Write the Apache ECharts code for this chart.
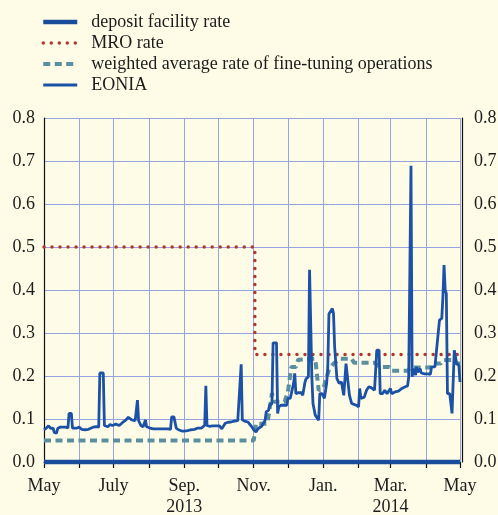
<!DOCTYPE html>
<html><head><meta charset="utf-8">
<script src="https://cdn.jsdelivr.net/npm/echarts@6/dist/echarts.min.js"></script>
<style>html,body{margin:0;padding:0;background:#fefce6;} #c{width:498px;height:515px;}</style>
</head><body><div id="c"></div>
<script>
// Period: 1 May 2013 – 1 May 2014; x values are days since 1 May 2013
const startYear = 2013, startMonth = 4;
const periodDays = 365;
const seriesNames = ['deposit facility rate', 'MRO rate', 'weighted average rate of fine-tuning operations', 'EONIA'];
const xTickLabels = ['May', '', 'July', '', 'Sep.\n2013', '', 'Nov.', '', 'Jan.', '', 'Mar.\n2014', '', 'May'];
const yMin = 0, yMax = 0.8, yStep = 0.1;

const depositDay = [0, 365];
const depositRate = [0, 0];

const mroDay = [0, 185, 185, 365];
const mroRate = [0.5, 0.5, 0.25, 0.25];

const ftoDay = [0, 184, 186, 196, 200, 202, 211, 214, 217, 221, 223, 238, 241, 245, 250, 254, 260, 270, 272, 290, 294, 303, 305, 319, 322, 339, 341, 348, 350, 360, 362, 365];
const ftoRate = [0.05, 0.05, 0.089, 0.089, 0.16, 0.14, 0.14, 0.163, 0.221, 0.221, 0.238, 0.240, 0.167, 0.171, 0.214, 0.229, 0.240, 0.240, 0.231, 0.231, 0.221, 0.221, 0.212, 0.212, 0.220, 0.220, 0.229, 0.229, 0.237, 0.237, 0.229, 0.229];

const eoniaDay = [0, 2, 4, 6, 8, 9, 11, 12, 14, 17, 19, 21, 22, 24, 25, 27, 29, 31, 33, 36, 39, 40, 43, 46, 48, 49, 52, 53, 56, 58, 60, 63, 66, 69, 72, 74, 77, 80, 81, 82, 83, 85, 87, 89, 90,
  93, 96, 100, 104, 109, 111, 112, 114, 116, 118, 121, 123, 126, 129, 132, 135, 138, 141, 142, 143, 145, 148, 151, 154, 156, 159, 161, 164, 167, 170, 171, 173, 174, 176, 179, 182, 184,
  186, 188, 191, 194, 195, 197, 198, 199, 200, 201, 204, 205, 206, 208, 210, 211, 213, 214, 216, 217, 219, 220, 221, 223, 224, 226, 227, 229, 230, 232, 233, 234, 235, 236, 238, 239, 241, 242, 244, 245, 246, 248, 249, 250, 251, 253, 254, 255, 257, 259, 261, 263, 265, 266, 268, 270, 272, 274, 276, 277,
  278, 279, 281, 283, 285, 287, 290, 291, 292, 294, 295, 297, 299, 301, 302, 304, 305, 306, 308, 311, 314, 317, 319, 320, 321, 322, 323, 324, 326, 327, 328, 330, 331, 334, 337, 339, 340, 343, 345, 347, 349, 350, 351, 352, 353, 354, 356, 358, 359, 360, 361, 362, 364, 365];
const eoniaRate = [0.075, 0.079, 0.084, 0.078, 0.079, 0.069, 0.067, 0.078, 0.081, 0.081, 0.081, 0.079, 0.113, 0.113, 0.079, 0.079, 0.079, 0.081, 0.076, 0.075, 0.076, 0.079, 0.081, 0.082, 0.081, 0.207, 0.207, 0.085, 0.082, 0.087, 0.085, 0.088, 0.085, 0.092, 0.098, 0.104, 0.098, 0.096, 0.092, 0.144, 0.096, 0.085, 0.082, 0.098, 0.082,
  0.079, 0.077, 0.077, 0.077, 0.077, 0.076, 0.105, 0.105, 0.079, 0.075, 0.072, 0.072, 0.073, 0.075, 0.076, 0.079, 0.079, 0.085, 0.177, 0.085, 0.083, 0.084, 0.084, 0.084, 0.077, 0.090, 0.092, 0.093, 0.095, 0.096, 0.096, 0.227, 0.098, 0.095, 0.093, 0.083, 0.075,
  0.070, 0.078, 0.083, 0.097, 0.117, 0.120, 0.132, 0.128, 0.136, 0.277, 0.277, 0.113, 0.128, 0.132, 0.132, 0.136, 0.132, 0.148, 0.148, 0.159, 0.183, 0.206, 0.159, 0.161, 0.159, 0.161, 0.155, 0.186, 0.194, 0.198, 0.447, 0.447, 0.198, 0.136, 0.109, 0.113, 0.097, 0.159, 0.159, 0.155, 0.148, 0.183, 0.221, 0.344, 0.346, 0.357, 0.346, 0.268, 0.194, 0.183, 0.186, 0.155, 0.229, 0.228, 0.155, 0.136, 0.134, 0.132, 0.128, 0.171,
  0.148, 0.144, 0.151, 0.167, 0.175, 0.173, 0.167, 0.163, 0.260, 0.260, 0.159, 0.159, 0.167, 0.159, 0.163, 0.171, 0.159, 0.159, 0.163, 0.165, 0.171, 0.175, 0.177, 0.198, 0.198, 0.689, 0.198, 0.217, 0.202, 0.221, 0.209, 0.217, 0.207, 0.205, 0.205, 0.204, 0.221, 0.221, 0.276, 0.330, 0.334, 0.384, 0.458, 0.400, 0.392, 0.159, 0.159, 0.113, 0.109, 0.260, 0.245, 0.229, 0.225, 0.186];

const FONT = "'Liberation Serif', 'Times New Roman', serif";
const TEXT = '#1c1c1c';
const toTime = d => new Date(startYear, startMonth, 1 + d).getTime();
const pairs = (days, vals) => days.map((d, i) => [toTime(d), vals[i]]);

const chart = echarts.init(document.getElementById('c'), null, {renderer: 'canvas'});
const yAxisBase = {
  type: 'value', min: yMin, max: yMax, interval: yStep,
  axisLine: {show: true, lineStyle: {color: '#111', width: 1.2}},
  axisTick: {show: false},
  axisLabel: {color: TEXT, fontFamily: FONT, fontSize: 18, formatter: v => v.toFixed(1)}
};
chart.setOption({
  backgroundColor: '#fefce6',
  animation: false,
  legend: {
    orient: 'vertical', left: 36, top: 8,
    itemWidth: 34, itemHeight: 14, itemGap: 3,
    textStyle: {fontFamily: FONT, fontSize: 18, color: TEXT, lineHeight: 17, padding: [0, 0, 0, 9]},
    lineStyle: {width: 'inherit', type: 'inherit'},
    itemStyle: {opacity: 0},
    data: seriesNames
  },
  grid: {left: 44, right: 38, top: 118, bottom: 53, containLabel: false, outerBoundsMode: 'none'},
  xAxis: {
    type: 'time',
    min: toTime(0), max: toTime(periodDays),
    splitNumber: 12,
    minInterval: 28 * 86400000, maxInterval: 31 * 86400000,
    axisLine: {show: true, lineStyle: {color: '#111', width: 1}},
    axisTick: {show: true, length: 6, lineStyle: {color: '#111', width: 1.2}},
    splitLine: {show: true, lineStyle: {color: '#95a3e0', width: 1}},
    axisLabel: {
      color: TEXT, fontFamily: FONT, fontSize: 18, lineHeight: 21, margin: 14,
      showMinLabel: true, showMaxLabel: true, hideOverlap: false,
      formatter: function (value) {
        const dt = new Date(value);
        const idx = (dt.getFullYear() - startYear) * 12 + dt.getMonth() - startMonth;
        return xTickLabels[idx] || '';
      }
    }
  },
  yAxis: [
    Object.assign({}, yAxisBase, {position: 'left', splitLine: {show: true, lineStyle: {color: '#95a3e0', width: 1}},
      axisLabel: Object.assign({}, yAxisBase.axisLabel, {margin: 9})}),
    Object.assign({}, yAxisBase, {position: 'right', offset: 2, splitLine: {show: false},
      axisLabel: Object.assign({}, yAxisBase.axisLabel, {margin: 12})})
  ],
  series: [
    {name: seriesNames[0], type: 'line', symbol: 'none', clip: false, z: 5,
      data: pairs(depositDay, depositRate),
      lineStyle: {color: '#1a4c9c', width: 4.5}, itemStyle: {color: '#1a4c9c'}},
    {name: seriesNames[1], type: 'line', symbol: 'none', z: 3,
      data: pairs(mroDay, mroRate),
      lineStyle: {color: '#b2372e', width: 3.5, type: [0.01, 8], cap: 'round'}, itemStyle: {color: '#b2372e'}},
    {name: seriesNames[2], type: 'line', symbol: 'none', z: 2,
      data: pairs(ftoDay, ftoRate),
      lineStyle: {color: '#5a8fa0', width: 4, type: [7, 4.5]}, itemStyle: {color: '#5a8fa0'}},
    {name: seriesNames[3], type: 'line', symbol: 'none', z: 4,
      data: pairs(eoniaDay, eoniaRate),
      lineStyle: {color: '#1b51a6', width: 2.8}, itemStyle: {color: '#1b51a6'}}
  ]
});
</script></body></html>
